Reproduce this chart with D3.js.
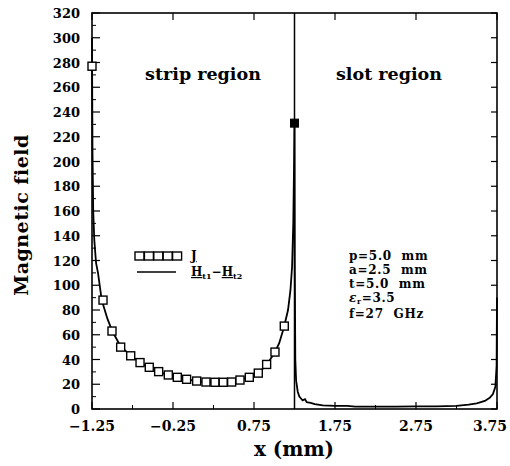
<!DOCTYPE html>
<html>
<head>
<meta charset="utf-8">
<script src="https://cdn.jsdelivr.net/npm/d3@7"></script>
<style>
body { margin: 0; background: #fff; }
text { font-family: "DejaVu Serif", serif; font-weight: bold; fill: #000; }
</style>
</head>
<body>
<svg id="chart" width="510" height="466"></svg>
<script>
// J (surface current) samples, open squares
var jX = [-1.25, -1.114, -1.003, -0.896, -0.772, -0.657, -0.543, -0.427, -0.308, -0.197, -0.082, 0.042, 0.157, 0.268, 0.37, 0.474, 0.577, 0.692, 0.803, 0.906, 1.009, 1.124];
var jY = [277, 88, 63, 50, 43, 37.5, 33.7, 30.2, 27.5, 25.6, 24, 22.6, 21.8, 21.6, 21.6, 21.8, 23.4, 25.6, 29, 36, 46, 67];
var jEdge = [1.25, 231];

// Ht1 - Ht2 curve
var hX = [-1.25, -1.247, -1.244, -1.235, -1.222, -1.2, -1.176, -1.13, -1.06, -1.0, -0.9, -0.77, -0.66, -0.54, -0.43, -0.31, -0.2, -0.08, 0.04, 0.16, 0.27, 0.37, 0.47, 0.58, 0.69, 0.8, 0.9, 1.0, 1.06, 1.12, 1.17, 1.2, 1.22, 1.235, 1.245, 1.25,
          1.253, 1.26, 1.27, 1.29, 1.31, 1.33, 1.35, 1.38, 1.4, 1.45, 1.5, 1.6, 1.75, 1.9, 2.0, 2.25, 2.5, 2.75, 3.0, 3.25, 3.4, 3.5, 3.6, 3.66, 3.7, 3.73, 3.745, 3.75];
var hY = [300, 250, 209, 160, 137, 118, 110, 88, 73, 63, 51, 43, 37.5, 33.5, 30, 27.5, 25.5, 24, 22.6, 21.8, 21.6, 21.6, 22, 23.5, 25.8, 29, 35, 45, 53, 66, 80, 96, 115, 150, 200, 231,
          120, 40, 23, 14, 10, 8.5, 7, 8, 5.5, 5, 4, 3, 2.5, 2.5, 2, 2, 2, 2.2, 2.2, 2.5, 3.5, 4.5, 6.5, 9, 12, 18, 35, 90];

var xTicks = [-1.25, -0.25, 0.75, 1.75, 2.75, 3.75];
var yTicks = d3.range(0, 321, 20);
var params = ["p=5.0  mm", "a=2.5  mm", "t=5.0  mm", "", "f=27  GHz"];

var svg = d3.select("#chart");
var mL = 92, mR = 497, mT = 13, mB = 409;

var x = d3.scaleLinear().domain([-1.25, 3.75]).range([mL, mR]);
var y = d3.scaleLinear().domain([0, 320]).range([mB, mT]);

// frame
svg.append("rect")
    .attr("x", mL).attr("y", mT)
    .attr("width", mR - mL).attr("height", mB - mT)
    .attr("fill", "none").attr("stroke", "#000").attr("stroke-width", 1.6);

// left axis ticks, major and minor
var yMinor = d3.range(10, 320, 20);
svg.append("g").selectAll("line").data(yTicks).join("line")
    .attr("x1", mL).attr("x2", mL + 8)
    .attr("y1", d => y(d)).attr("y2", d => y(d))
    .attr("stroke", "#000").attr("stroke-width", 1.2);
svg.append("g").selectAll("line").data(yMinor).join("line")
    .attr("x1", mL).attr("x2", mL + 4)
    .attr("y1", d => y(d)).attr("y2", d => y(d))
    .attr("stroke", "#000").attr("stroke-width", 1);
// right axis ticks
svg.append("g").selectAll("line").data(yTicks).join("line")
    .attr("x1", mR).attr("x2", mR - 6)
    .attr("y1", d => y(d)).attr("y2", d => y(d))
    .attr("stroke", "#000").attr("stroke-width", 1.2);

// x ticks bottom + top
var xMinor = d3.range(-0.75, 3.75, 1);
svg.append("g").selectAll("line").data(xTicks).join("line")
    .attr("x1", d => x(d)).attr("x2", d => x(d))
    .attr("y1", mB).attr("y2", mB - 7)
    .attr("stroke", "#000").attr("stroke-width", 1.2);
svg.append("g").selectAll("line").data(xMinor).join("line")
    .attr("x1", d => x(d)).attr("x2", d => x(d))
    .attr("y1", mB).attr("y2", mB - 4)
    .attr("stroke", "#000").attr("stroke-width", 1);
svg.append("g").selectAll("line").data(xTicks).join("line")
    .attr("x1", d => x(d)).attr("x2", d => x(d))
    .attr("y1", mT).attr("y2", mT + 7)
    .attr("stroke", "#000").attr("stroke-width", 1.2);

// tick labels
svg.append("g").selectAll("text").data(yTicks).join("text")
    .attr("x", mL - 12).attr("y", d => y(d) + 5)
    .attr("text-anchor", "end")
    .style("font-size", "13px")
    .text(d => d);
svg.append("g").selectAll("text").data(xTicks).join("text")
    .attr("x", (d, i) => i === xTicks.length - 1 ? 507 : x(d))
    .attr("y", mB + 22)
    .attr("text-anchor", (d, i) => i === xTicks.length - 1 ? "end" : "middle")
    .style("font-size", "14px")
    .text(d => d3.format(".2f")(d).replace("-", "\u2212"));

// axis titles
svg.append("text")
    .attr("x", 294).attr("y", 456)
    .attr("text-anchor", "middle")
    .attr("xml:space", "preserve")
    .style("font-size", "20px")
    .text("x (mm)");
svg.append("text")
    .attr("transform", "translate(28,215) rotate(-90)")
    .attr("text-anchor", "middle")
    .style("font-size", "19px")
    .style("letter-spacing", "0.5px")
    .text("Magnetic field");

// divider
svg.append("line")
    .attr("x1", x(1.25)).attr("x2", x(1.25))
    .attr("y1", y(0)).attr("y2", y(320))
    .attr("stroke", "#000").attr("stroke-width", 1.5);

// region labels
svg.append("text").attr("x", 203).attr("y", 80).attr("text-anchor", "middle")
    .style("font-size", "17.5px").text("strip region");
svg.append("text").attr("x", 389).attr("y", 80).attr("text-anchor", "middle")
    .style("font-size", "17.5px").text("slot region");

// H curve
var line = d3.line().x(d => x(d[0])).y(d => y(d[1]));
var hData = hX.map((v, i) => [v, hY[i]]);
svg.append("path")
    .attr("d", line(hData))
    .attr("fill", "none").attr("stroke", "#000").attr("stroke-width", 1.8);

// J squares
var jData = jX.map((v, i) => [v, jY[i]]);
svg.append("g").selectAll("rect").data(jData).join("rect")
    .attr("x", d => x(d[0]) - 4).attr("y", d => y(d[1]) - 4)
    .attr("width", 8).attr("height", 8)
    .attr("fill", "#fff").attr("stroke", "#000").attr("stroke-width", 1.4);
svg.append("rect")
    .attr("x", x(jEdge[0]) - 4).attr("y", y(jEdge[1]) - 4)
    .attr("width", 8).attr("height", 8)
    .attr("fill", "#000").attr("stroke", "#000");

// legend
var lg = svg.append("g");
lg.append("line").attr("x1", 135).attr("x2", 182).attr("y1", 256).attr("y2", 256)
    .attr("stroke", "#000").attr("stroke-width", 1.4);
lg.selectAll("rect").data(d3.range(5)).join("rect")
    .attr("x", d => 135 + d * 9.4).attr("y", 252)
    .attr("width", 9).attr("height", 8)
    .attr("fill", "#fff").attr("stroke", "#000").attr("stroke-width", 1.4);
lg.append("text").attr("x", 191).attr("y", 260).style("font-size", "12px").text("J")
    .attr("text-decoration", "underline");
lg.append("line").attr("x1", 137).attr("x2", 176).attr("y1", 272).attr("y2", 272)
    .attr("stroke", "#000").attr("stroke-width", 1.6);
var ht = lg.append("text").attr("x", 191).attr("y", 276).style("font-size", "12px");
ht.append("tspan").attr("text-decoration", "underline").text("H");
ht.append("tspan").attr("dy", 3).style("font-size", "8px").text("t1");
ht.append("tspan").attr("dy", -3).text("\u2212");
ht.append("tspan").attr("text-decoration", "underline").text("H");
ht.append("tspan").attr("dy", 3).style("font-size", "8px").text("t2");

// parameters
var paramY = [260, 274, 288, 303, 318];
var pg = svg.append("g").style("font-size", "12px").style("letter-spacing", "0.7px");
pg.selectAll("text").data(params).join("text")
    .attr("x", 349).attr("y", (d, i) => paramY[i])
    .attr("xml:space", "preserve")
    .text(d => d);
var er = pg.append("text").attr("x", 349).attr("y", paramY[3] - 1);
er.append("tspan").style("font-style", "italic").text("\u03b5");
er.append("tspan").attr("dy", 2).style("font-size", "7.5px").text("r");
er.append("tspan").attr("dy", -2).text("=3.5");
</script>
</body>
</html>
